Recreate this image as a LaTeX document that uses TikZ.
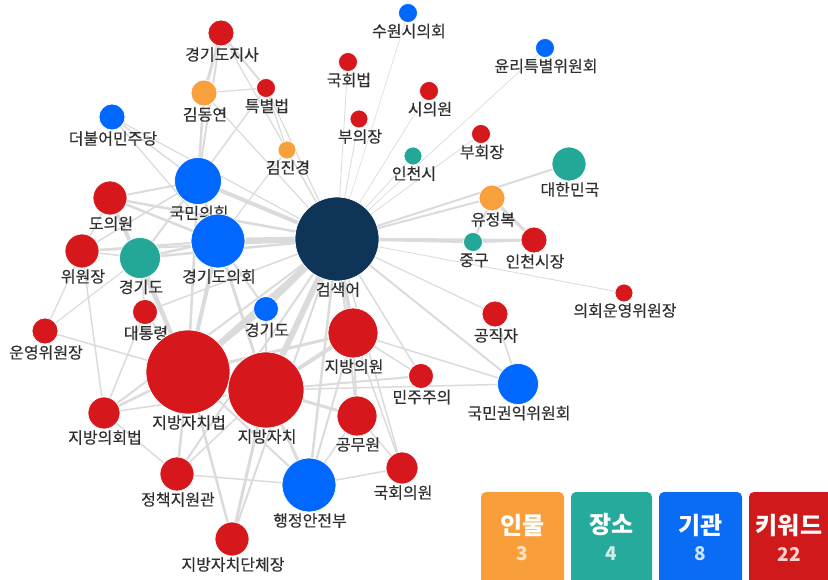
\documentclass[tikz,border=0pt]{standalone}
\usepackage{fontspec}
\newfontfamily\kr{Noto Sans CJK KR}
\newfontfamily\krm{Noto Sans CJK KR}[FakeBold=0.35]
\usetikzlibrary{calc}
\definecolor{navyc}{RGB}{14,52,88}
\definecolor{redc}{RGB}{214,24,28}
\definecolor{bluec}{RGB}{0,104,255}
\definecolor{tealc}{RGB}{35,167,151}
\definecolor{orgc}{RGB}{248,160,60}
\definecolor{edgec}{RGB}{219,219,219}
\definecolor{txtc}{RGB}{48,48,48}
\definecolor{lgorg}{RGB}{248,158,58}
\definecolor{lgteal}{RGB}{37,170,156}
\definecolor{lgblue}{RGB}{10,108,245}
\definecolor{lgred}{RGB}{208,25,27}
\pgfdeclarelayer{bg}
\pgfdeclarelayer{mid}
\pgfsetlayers{bg,mid,main}
\tikzset{
  dot/.style={circle, draw=white, line width=0.7pt, inner sep=0pt},
  lbl/.style={font=\krm\fontsize{16}{18}\selectfont, text=txtc, inner sep=0pt, text height=12pt, text depth=1pt},
  lk/.style={draw=edgec, line width=#1},
  lk/.default=1pt,
  lgbox/.style={rounded corners=5pt},
  lgtitle/.style={font=\kr\bfseries\fontsize{24}{26}\selectfont, text=white, inner sep=0pt},
  lgnum/.style={font=\kr\bfseries\fontsize{19}{21}\selectfont, inner sep=0pt}
}
\newcommand{\nd}[6]{%
  \node[dot, fill=#5, minimum size={#4*2pt}] (#1) at (#2,#3) {};
  \begin{pgfonlayer}{mid}\node[lbl] (#1-l) at (#2+1, #3+#4+9) {#6};\end{pgfonlayer}
}
\begin{document}
\begin{tikzpicture}[x=1pt,y=-1pt]
\begin{pgfonlayer}{bg}
\fill[white] (0,0) rectangle (828,580);
\end{pgfonlayer}
\useasboundingbox (0,0) rectangle (828,580);
% nodes
\nd{S}{337}{239}{42}{navyc}{검색어}
\nd{gjs}{221}{33}{13}{redc}{경기도지사}
\nd{kdy}{204}{93}{13}{orgc}{김동연}
\nd{tbb}{266}{88}{9.5}{redc}{특별법}
\nd{kjk}{287}{150}{9}{orgc}{김진경}
\nd{dmj}{112}{117}{13}{bluec}{더불어민주당}
\nd{kmh}{198}{181}{23.5}{bluec}{국민의힘}
\nd{dow}{110}{198}{17}{redc}{도의원}
\nd{ggc}{218}{241}{27}{bluec}{경기도의회}
\nd{wwj}{82}{251}{17}{redc}{위원장}
\nd{ggt}{140}{258}{20.5}{tealc}{경기도}
\nd{dtr}{145}{312}{12.5}{redc}{대통령}
\nd{ggb}{266}{309}{12.5}{bluec}{경기도}
\nd{uwj}{45}{331}{13}{redc}{운영위원장}
\nd{jjb}{188}{372}{42}{redc}{지방자치법}
\nd{jj}{266}{390}{38}{redc}{지방자치}
\nd{jbw}{353}{333}{25}{redc}{지방의원}
\nd{mjj}{421}{376}{12.5}{redc}{민주주의}
\nd{gmw}{357}{416}{20}{redc}{공무원}
\nd{jhb}{104}{413}{16}{redc}{지방의회법}
\nd{jcg}{177}{474}{17}{redc}{정책지원관}
\nd{hab}{309}{485}{27}{bluec}{행정안전부}
\nd{khw}{402}{468}{16}{redc}{국회의원}
\nd{jdc}{232}{539}{17}{redc}{지방자치단체장}
\nd{gjj}{495}{314}{13}{redc}{공직자}
\nd{kkw}{518}{384}{20.5}{bluec}{국민권익위원회}
\nd{hwj}{624}{293}{9}{redc}{의회운영위원장}
\nd{swc}{408}{13}{9.5}{bluec}{수원시의회}
\nd{khb}{348}{62}{9.5}{redc}{국회법}
\nd{buj}{359}{119}{9}{redc}{부의장}
\nd{siw}{429}{91}{9.5}{redc}{시의원}
\nd{ich}{413}{156}{9}{tealc}{인천시}
\nd{ytw}{545}{48}{9.5}{bluec}{윤리특별위원회}
\nd{bhj}{481}{134}{9.5}{redc}{부회장}
\nd{dhm}{569}{164}{17}{tealc}{대한민국}
\nd{yjb}{492}{198}{13}{orgc}{유정복}
\nd{jg}{473}{242}{9.5}{tealc}{중구}
\nd{ics}{534}{240}{13}{redc}{인천시장}
% edges
\begin{pgfonlayer}{bg}
\foreach \a/\w in {swc/0.6,khb/0.8,buj/0.8,siw/0.7,ich/0.8,ytw/0.7,bhj/0.8,dhm/2,yjb/2,jg/2.5,ics/2.5,hwj/0.8,gjj/1.2,kkw/2,mjj/1.5,jbw/4,gmw/2,khw/1.5,hab/2.5,jj/6,jjb/6,ggb/2.5,ggc/6,kmh/4,kjk/1.2,tbb/1.2,kdy/1.2,dow/2.5,wwj/2,ggt/2.5,dtr/1.5,dmj/1.2,gjs/1.2,jcg/2,jhb/2,jdc/2}
  {\draw[lk=\w pt] (S) -- (\a);}
\foreach \a/\b/\w in {gjs/kdy/3,gjs/tbb/2,gjs/kmh/2,kdy/tbb/1.2,kdy/kmh/2.5,tbb/kjk/1.2,tbb/kmh/1.5,
  dmj/kmh/1.5,dmj/ggc/1.2,kjk/ggc/1.2,kmh/ggc/2.5,kmh/dow/2,kmh/ggt/2,kmh/wwj/1.5,kmh/jjb/2.5,
  ggc/dow/2.5,ggc/wwj/2,ggc/ggt/2.5,ggc/jjb/4,ggc/jj/3,ggc/ggb/2,dow/wwj/1.5,dow/ggt/1.5,dow/jjb/3,
  wwj/ggt/1.5,wwj/uwj/1.2,wwj/jhb/1.5,ggt/jjb/3,ggt/dtr/1.5,dtr/jjb/1.5,dtr/jhb/1.5,uwj/jjb/1.5,uwj/ggt/1.2,
  jjb/jj/6,jjb/jhb/2.5,jjb/jcg/2.5,jjb/jdc/2.5,jjb/hab/2,jjb/jbw/3,jjb/ggb/2,
  jj/jbw/4,jj/gmw/3,jj/hab/3,jj/jdc/3,jj/mjj/2,jj/jcg/1.5,jj/ggb/2,jj/jhb/1.5,
  jbw/gmw/2,jbw/khw/1.5,jbw/kkw/1.5,jbw/hab/2,jbw/mjj/1.5,gmw/khw/1.5,gmw/hab/1.5,hab/khw/1.5,hab/jcg/1.5,
  kkw/gjj/1.5,kkw/jj/1.5,yjb/ics/3,yjb/jg/2,jg/ics/2.5,jhb/jcg/1.5}
  {\draw[lk=\w pt] (\a) -- (\b);}
\end{pgfonlayer}
% legend
\begin{scope}
\clip (0,0) rectangle (828,580);
\fill[lgorg,lgbox] (481,492) rectangle (564,595);
\fill[lgteal,lgbox] (571,492) rectangle (652,595);
\fill[lgblue,lgbox] (659,492) rectangle (742,595);
\fill[lgred,lgbox] (749,492) rectangle (835,595);
\end{scope}
\node[lgtitle] (t1) at (522.5,525) {인물};
\node[lgtitle] (t2) at (611.5,525) {장소};
\node[lgtitle] (t3) at (700.5,525) {기관};
\node[lgtitle] (t4) at (789,525) {키워드};
\node[lgnum, text=lgorg!28!white] (n1) at (522.5,554) {3};
\node[lgnum, text=lgteal!22!white] (n2) at (611.5,554) {4};
\node[lgnum, text=lgblue!20!white] (n3) at (700.5,554) {8};
\node[lgnum, text=lgred!20!white] (n4) at (789,554) {22};
\end{tikzpicture}
\end{document}
